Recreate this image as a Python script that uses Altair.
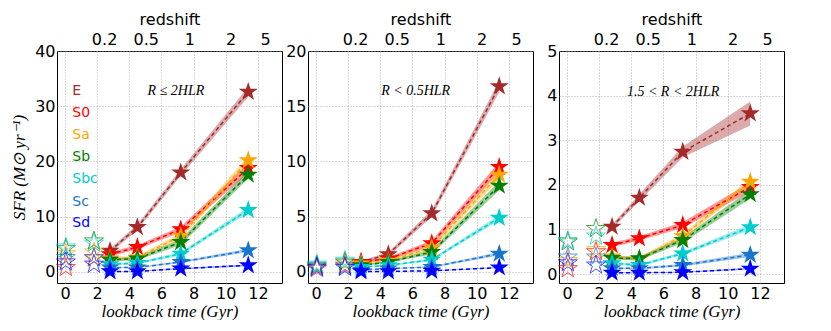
import json
import altair as alt
import pandas as pd

TYPES = ["E", "S0", "Sa", "Sb", "Sbc", "Sc", "Sd"]
COLORS = ["#a52a2a", "#ff0000", "#ffa500", "#008000", "#00cdcd", "#1874cd", "#0000ff"]
TIMES = [2.8, 4.5, 7.2, 11.4]
OPEN_TIMES = [0.05, 1.8]
X_TICKS = [0, 2, 4, 6, 8, 10, 12]
Z_TICK_POS = [2.43, 5.02, 7.73, 10.3, 12.45]
Z_TICK_LAB = ["0.2", "0.5", "1", "2", "5"]

# panel 1 : R <= 2 HLR
SFR_1 = {"E": [3.8, 8.1, 18.0, 32.6], "S0": [3.2, 4.5, 7.7, 18.8], "Sa": [2.4, 2.6, 6.5, 20.2],
         "Sb": [2.2, 2.4, 5.4, 17.6], "Sbc": [1.4, 1.6, 3.3, 11.2], "Sc": [0.8, 0.8, 1.8, 3.9],
         "Sd": [0.1, 0.1, 0.6, 1.2]}
ERR_1 = {"E": [0.4, 0.5, 0.6, 0.9], "S0": [0.4, 0.4, 0.5, 0.9], "Sa": [0.3, 0.3, 0.5, 0.8],
         "Sb": [0.3, 0.3, 0.5, 0.7], "Sbc": [0.2, 0.2, 0.3, 0.5], "Sc": [0.1, 0.1, 0.2, 0.3],
         "Sd": [0.05, 0.05, 0.1, 0.15]}
OPEN_1 = {"S0": [0.8, 2.6], "Sa": [3.3, 3.6], "Sb": [4.2, 5.6], "Sbc": [4.5, 5.2],
          "Sc": [2.6, 2.5], "Sd": [1.8, 1.4]}

# panel 2 : R < 0.5 HLR
SFR_2 = {"E": [0.9, 1.6, 5.3, 16.8], "S0": [0.9, 1.2, 2.6, 9.5], "Sa": [0.75, 1.0, 2.2, 8.8],
         "Sb": [0.6, 0.9, 1.8, 7.8], "Sbc": [0.45, 0.6, 1.1, 4.9], "Sc": [0.2, 0.3, 0.45, 1.65],
         "Sd": [0.05, 0.05, 0.1, 0.4]}
ERR_2 = {"E": [0.1, 0.2, 0.3, 0.5], "S0": [0.1, 0.15, 0.25, 0.45], "Sa": [0.1, 0.12, 0.2, 0.4],
         "Sb": [0.08, 0.1, 0.2, 0.4], "Sbc": [0.05, 0.08, 0.12, 0.25], "Sc": [0.03, 0.04, 0.06, 0.15],
         "Sd": [0.02, 0.02, 0.03, 0.05]}
OPEN_2 = {"S0": [0.3, 0.6], "Sa": [0.5, 0.8], "Sb": [0.6, 0.9], "Sbc": [0.7, 1.05],
          "Sc": [0.5, 0.5], "Sd": [0.4, 0.4]}

# panel 3 : 1.5 < R < 2 HLR
SFR_3 = {"E": [1.06, 1.71, 2.74, 3.6], "S0": [0.65, 0.8, 1.1, 1.95], "Sa": [0.39, 0.34, 0.85, 2.07],
         "Sb": [0.36, 0.35, 0.76, 1.79], "Sbc": [0.24, 0.2, 0.46, 1.05], "Sc": [0.13, 0.13, 0.2, 0.43],
         "Sd": [0.03, 0.03, 0.04, 0.12]}
ERR_3 = {"E": [0.05, 0.08, 0.12, 0.27], "S0": [0.05, 0.05, 0.07, 0.1], "Sa": [0.04, 0.04, 0.06, 0.08],
         "Sb": [0.04, 0.04, 0.06, 0.1], "Sbc": [0.03, 0.03, 0.04, 0.06], "Sc": [0.02, 0.02, 0.03, 0.05],
         "Sd": [0.01, 0.01, 0.01, 0.02]}
OPEN_3 = {"S0": [0.12, 0.5], "Sa": [0.3, 0.55], "Sb": [0.72, 1.02], "Sbc": [0.75, 0.85],
          "Sc": [0.38, 0.38], "Sd": [0.25, 0.2]}

PANEL_TEXT = ["R ≤ 2HLR", "R < 0.5HLR", "1.5 < R < 2HLR"]
PANEL_TEXT_X = [6.9, 6.2, 6.6]
PANEL_TEXT_Y = [32.8, 16.4, 4.08]
Y_DOMAINS = [[-2, 40], [-1, 20], [-0.2, 5]]
Y_TICKS = [[0, 10, 20, 30, 40], [0, 5, 10, 15, 20], [0, 1, 2, 3, 4, 5]]
LEGEND_X = 0.45
LEGEND_Y = [32.7, 28.7, 24.8, 20.8, 16.8, 12.7, 8.8]

STAR = ("M0,-1L0.2245,-0.309L0.9511,-0.309L0.3633,0.118L0.5878,0.809L0,0.382"
        "L-0.5878,0.809L-0.3633,0.118L-0.9511,-0.309L-0.2245,-0.309Z")

SERIF = "Liberation Serif"
SANS = "DejaVu Sans"

label_map = json.dumps({str(p): l for p, l in zip(Z_TICK_POS, Z_TICK_LAB)})
z_label_expr = f"{label_map}['' + datum.value]"


def panel(i, sfr, err, opn):
    rows = []
    for k, t in enumerate(TYPES):
        for j, x in enumerate(TIMES):
            v = sfr[t][j]
            e = err[t][j]
            rows.append({"type": t, "ord": k, "t": x, "sfr": v, "lo": v - e, "hi": v + e})
    df = pd.DataFrame(rows)
    orows = []
    for k, t in enumerate(TYPES):
        if t in opn:
            for j, x in enumerate(OPEN_TIMES):
                orows.append({"type": t, "ord": k, "t": x, "sfr": opn[t][j]})
    odf = pd.DataFrame(orows)

    xs = alt.Scale(domain=[-0.5, 13.5], nice=False, zero=False)
    ys = alt.Scale(domain=Y_DOMAINS[i], nice=False, zero=False)
    color = alt.Color("type:N", scale=alt.Scale(domain=TYPES, range=COLORS), legend=None)
    if i == 0:
        yaxis = alt.Axis(values=Y_TICKS[i], title="SFR (M⊙ yr⁻¹)", titleFont=SERIF,
                         titleFontStyle="italic", titleFontSize=17, titlePadding=6)
    else:
        yaxis = alt.Axis(values=Y_TICKS[i], title=None, minExtent=24)

    xaxis = alt.Axis(values=X_TICKS, title="lookback time (Gyr)", titleFont=SERIF,
                     titleFontStyle="italic", titleFontSize=17, titlePadding=2)
    xnone = dict(scale=xs, axis=None)

    band = alt.Chart(df).mark_area(opacity=0.4).encode(
        x=alt.X("t:Q", scale=xs, axis=xaxis),
        y=alt.Y("lo:Q", scale=ys, axis=yaxis),
        y2="hi:Q",
        color=color,
        detail="type:N",
    )
    line = alt.Chart(df).mark_line(strokeDash=[4, 3], strokeWidth=1.5).encode(
        x=alt.X("t:Q", **xnone),
        y=alt.Y("sfr:Q", scale=ys, axis=yaxis),
        color=color,
    )
    stars = alt.Chart(df).mark_point(shape=STAR, filled=True, size=400, opacity=1).encode(
        x=alt.X("t:Q", **xnone),
        y=alt.Y("sfr:Q", scale=ys, axis=yaxis),
        color=color,
        order=alt.Order("ord:Q"),
    )
    ostars = alt.Chart(odf).mark_point(shape=STAR, filled=False, size=400, strokeWidth=1,
                                       opacity=0.7).encode(
        x=alt.X("t:Q", **xnone),
        y=alt.Y("sfr:Q", scale=ys, axis=yaxis),
        color=color,
        order=alt.Order("ord:Q"),
    )
    adf = pd.DataFrame({"x": [PANEL_TEXT_X[i]], "y": [PANEL_TEXT_Y[i]], "s": [PANEL_TEXT[i]]})
    ann = alt.Chart(adf).mark_text(font=SERIF, fontStyle="italic", fontSize=14, color="black").encode(
        x=alt.X("x:Q", **xnone),
        y=alt.Y("y:Q", scale=ys, axis=yaxis),
        text="s:N",
    )
    zdf = pd.DataFrame({"z": Z_TICK_POS})
    top = alt.Chart(zdf).mark_point(opacity=0).encode(
        x=alt.X("z:Q", scale=xs,
                axis=alt.Axis(orient="top", values=Z_TICK_POS, labelExpr=z_label_expr,
                              title="redshift", grid=False, labelPadding=4, titlePadding=4,
                              labelFlush=False)),
    )
    layers = [band, line, stars, ostars, ann]
    if i == 0:
        ldf = pd.DataFrame({"type": TYPES, "x": [LEGEND_X] * len(TYPES), "y": LEGEND_Y})
        leg = alt.Chart(ldf).mark_text(font=SANS, fontSize=14, align="left").encode(
            x=alt.X("x:Q", **xnone),
            y=alt.Y("y:Q", scale=ys, axis=yaxis),
            text="type:N",
            color=color,
        )
        layers.append(leg)
    layers.append(top)
    return alt.layer(*layers).resolve_axis(x="independent").properties(width=225, height=232)


p1 = panel(0, SFR_1, ERR_1, OPEN_1)
p2 = panel(1, SFR_2, ERR_2, OPEN_2)
p3 = panel(2, SFR_3, ERR_3, OPEN_3)

chart = alt.hconcat(p1, p2, p3, spacing=0).properties(
    padding={"left": 2, "top": 2, "right": 5, "bottom": 0}
).configure_view(stroke="black", strokeWidth=1).configure_axis(
    labelFont=SANS, labelFontSize=16, labelColor="black", labelPadding=2,
    titleFont=SANS, titleFontSize=16, titleColor="black", titleFontWeight="normal",
    domain=False, ticks=False, gridColor="#a0a0a0", gridDash=[1, 2], gridWidth=0.8,
)

chart.save("out.html", embed_options={"renderer": "svg", "actions": False})
